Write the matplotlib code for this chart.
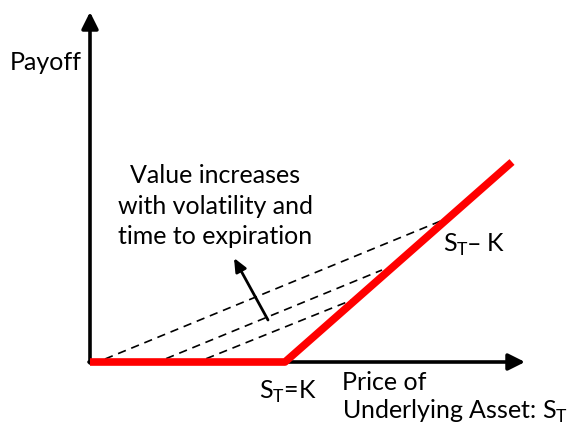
import matplotlib.pyplot as plt

plt.rcParams['font.family'] = ['Lato', 'DejaVu Sans']

# payoff diagram, origin at the axis corner (units ~ pixels)
strike = 195
payoff_x = [0, strike, 422]
payoff_y = [0, 0, 200]

# option value curves before expiration (dashed)
value_x = [[15, 358], [63, 292], [103, 267]]
value_y = [[3, 144], [-2, 92], [-2, 64]]

fig = plt.figure(figsize=(5.70, 4.29), dpi=100)
ax = fig.add_axes([0, 0, 1, 1])
ax.set_xlim(-90, 480)
ax.set_ylim(-67, 362)
ax.axis('off')

# axes with arrows
arr = dict(arrowstyle='-|>,head_length=1.0,head_width=0.5', lw=2.6, color='black',
           shrinkA=0, shrinkB=0)
ax.annotate('', xy=(0, 350), xytext=(0, -1), arrowprops=arr)
ax.annotate('', xy=(435, 0), xytext=(-1, 0), arrowprops=arr)

for xs, ys in zip(value_x, value_y):
    ax.plot(xs, ys, color='black', lw=1.2, ls=(0, (5, 3.5)))

ax.plot(payoff_x, payoff_y, color='#ff0000', lw=5.5, solid_capstyle='butt', zorder=5)

ax.annotate('', xy=(144, 104), xytext=(178, 42),
            arrowprops=dict(arrowstyle='-|>,head_length=0.8,head_width=0.35', lw=2,
                            color='black', shrinkA=0, shrinkB=0))

fs = 18
ax.text(-8, 300, 'Payoff', ha='right', va='center', fontsize=fs)
ax.text(125, 156, 'Value increases\nwith volatility and\ntime to expiration',
        ha='center', va='center', fontsize=fs, linespacing=1.4)
ax.text(198, -30, r'S$_\mathregular{T}$=K', ha='center', va='center', fontsize=fs)
ax.text(353, 117, r'S$_\mathregular{T}$– K', ha='left', va='center', fontsize=fs)
ax.text(252, -36, 'Price of\nUnderlying Asset: S$_\\mathregular{T}$', ha='left', va='center',
        fontsize=fs, linespacing=1.2)

fig.savefig('out.png', dpi=100)
